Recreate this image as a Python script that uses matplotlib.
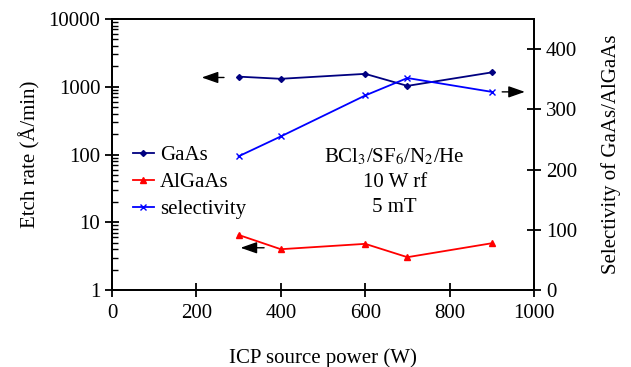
import matplotlib
matplotlib.use("Agg")
import matplotlib.pyplot as plt
from matplotlib.ticker import LogLocator, NullFormatter

plt.rcParams['font.family'] = ['Liberation Serif', 'DejaVu Serif']
plt.rcParams['mathtext.fontset'] = 'stix'

power = [300, 400, 600, 700, 900]
gaas = [1410, 1310, 1550, 1030, 1630]
algaas = [6.5, 4.0, 4.8, 3.05, 4.9]
selectivity = [222, 255, 323, 352, 329]

fig = plt.figure(figsize=(6.31, 3.67), dpi=100)
ax = fig.add_axes([112/631, 1-290/367, 422/631, 271/367])
ax2 = ax.twinx()

ax.plot(power, gaas, color='#000080', marker='D', markersize=3, lw=1.3, label='GaAs')
ax.plot(power, algaas, color='#ff0000', marker='^', markersize=4, lw=1.3, label='AlGaAs')
ax2.plot(power, selectivity, color='#0000ff', marker='x', markersize=4, lw=1.3, label='selectivity')

ax.set_yscale('log')
ax.set_ylim(1, 10000)
ax.set_xlim(0, 1000)
ax2.set_ylim(0, 450)
ax.set_xticks([0, 200, 400, 600, 800, 1000])
ax.set_yticks([1, 10, 100, 1000, 10000])
ax.set_yticklabels(['1', '10', '100', '1000', '10000'])
ax.yaxis.set_minor_locator(LogLocator(base=10, subs=range(2, 10)))
ax.yaxis.set_minor_formatter(NullFormatter())
ax2.set_yticks([0, 100, 200, 300, 400])

for a in (ax, ax2):
    for s in a.spines.values():
        s.set_linewidth(1.3)
ax.tick_params(axis='both', which='major', direction='inout', length=10, width=1.3, labelsize=15)
ax.tick_params(axis='y', which='minor', direction='in', length=4, width=1)
ax2.tick_params(axis='y', which='major', direction='inout', length=10, width=1.3, labelsize=15)
ax.tick_params(axis='x', pad=5)

ax.set_xlabel('ICP source power (W)', fontsize=15, labelpad=18)
ax.set_ylabel('Etch rate (Å/min)', fontsize=15, labelpad=6)
ax2.set_ylabel('Selectivity of GaAs/AlGaAs', fontsize=15, labelpad=17)

h1, l1 = ax.get_legend_handles_labels()
h2, l2 = ax2.get_legend_handles_labels()
ax.legend(h1 + h2, l1 + l2, loc='center left', bbox_to_anchor=(0.005, 0.398),
          frameon=False, fontsize=15, handlelength=1.0, labelspacing=0.35,
          handletextpad=0.3)

ax.text(0.67, 0.492, r'BCl$_3$/SF$_6$/N$_2$/He', transform=ax.transAxes,
        ha='center', va='center', fontsize=15)
ax.text(0.67, 0.398, '10 W rf', transform=ax.transAxes, ha='center', va='center', fontsize=15)
ax.text(0.67, 0.306, '5 mT', transform=ax.transAxes, ha='center', va='center', fontsize=15)

arrow = dict(arrowstyle='-|>,head_length=1.0,head_width=0.35', color='black', lw=1)
ax.annotate('', xy=(206, 1370), xytext=(272, 1370), arrowprops=arrow)
ax.annotate('', xy=(298, 4.2), xytext=(367, 4.2), arrowprops=arrow)
ax2.annotate('', xy=(985, 329), xytext=(918, 329), arrowprops=arrow)

fig.savefig('out.png', dpi=100)
